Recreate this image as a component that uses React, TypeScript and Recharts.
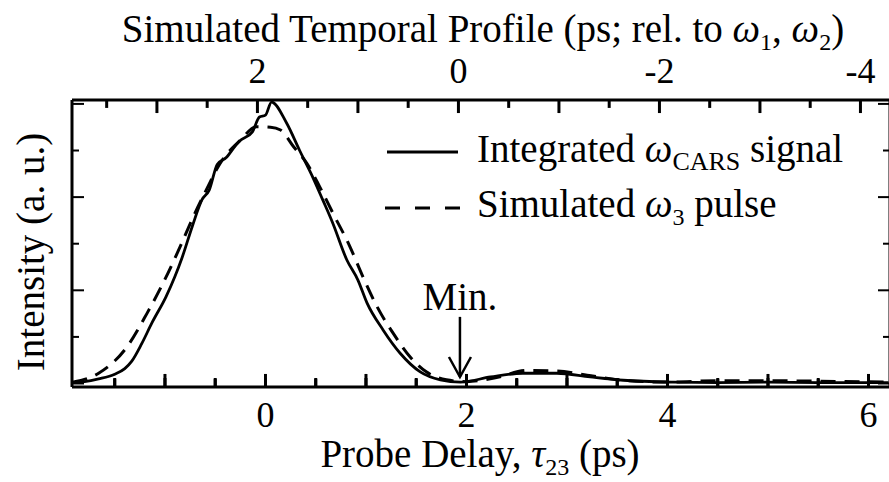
import React from 'react';
import { LineChart, Line, XAxis, YAxis, ReferenceLine } from 'recharts';

// Integrated CARS signal (solid)
const carsDelay = [
  -1.92, -1.8, -1.66, -1.5, -1.4, -1.33, -1.23, -1.13, -0.99, -0.9, -0.83, -0.73, -0.63, -0.56,
  -0.48, -0.39, -0.3, -0.26, -0.13, -0.06, 0.0, 0.06, 0.21, 0.34, 0.47, 0.57, 0.67, 0.81, 0.92,
  1.01, 1.17, 1.34, 1.54, 1.74, 1.94, 2.24, 2.56, 2.9, 3.23, 3.56, 4.05, 4.5, 5.0, 5.5, 6.2,
];
const carsSignal = [
  0.02, 0.04, 0.1, 0.2, 0.32, 0.48, 0.86, 1.3, 1.86, 2.3, 2.7, 3.36, 3.95, 4.15,
  4.7, 4.85, 5.1, 5.2, 5.4, 5.72, 5.76, 6.04, 5.59, 5.0, 4.43, 3.94, 3.44, 2.65, 2.22,
  1.73, 1.15, 0.65, 0.25, 0.08, 0.03, 0.14, 0.22, 0.22, 0.14, 0.07, 0.03, 0.02, 0.03, 0.02, 0.02,
];

// Simulated omega3 pulse (dashed)
const pulseDelay = [
  -1.92, -1.66, -1.38, -1.18, -1.02, -0.85, -0.72, -0.59, -0.45, -0.25, -0.09, 0.05, 0.15, 0.28,
  0.41, 0.54, 0.67, 0.84, 0.97, 1.11, 1.27, 1.44, 1.6, 1.8, 2.0, 2.3, 2.6, 2.9, 3.2, 3.5, 4.0,
  4.5, 5.0, 5.5, 6.2,
];
const pulseSignal = [
  0.03, 0.22, 0.78, 1.5, 2.15, 2.93, 3.57, 4.15, 4.73, 5.22, 5.51, 5.5, 5.44, 5.08,
  4.73, 4.22, 3.66, 2.94, 2.29, 1.65, 1.08, 0.57, 0.25, 0.08, 0.04, 0.13, 0.28, 0.27, 0.18, 0.08, 0.03,
  0.06, 0.06, 0.05, 0.03,
];

const bottomTicks = [-1.5, -1, -0.5, 0, 0.5, 1, 1.5, 2, 2.5, 3, 3.5, 4, 4.5, 5, 5.5, 6];
const bottomLabels = [0, 2, 4, 6];
const topTicks = [3.5, 3, 2.5, 2, 1.5, 1, 0.5, 0, -0.5, -1, -1.5, -2, -2.5, -3, -3.5, -4];
const topLabels = [2, 0, -2, -4];
const yTicks = [0, 1, 2, 3, 4, 5, 6];
// the top scale's zero sits at this probe delay, and it runs the other way
const TOP_ZERO_DELAY = 1.92;
const topTicksAsDelay = topTicks.map((t) => TOP_ZERO_DELAY - t);

const X_DOMAIN = [-1.925, 6.214];
const Y_DOMAIN = [-0.075, 6.084];
// tick lengths in intensity units (about 13 px and 8 px)
const MAJOR_LEN = 0.28;
const MINOR_LEN = 0.17;

const carsData = carsDelay.map((d, i) => ({ delay: d, signal: carsSignal[i] }));
const pulseData = pulseDelay.map((d, i) => ({ delay: d, signal: pulseSignal[i] }));

const FONT = '"Liberation Serif", "Times New Roman", serif';
const FS = 39;
const TICK_FS = 36;

const SegLine = (props: any) => {
  const { x1, y1, x2, y2 } = props;
  return (
    <g>
      <line x1={x1} y1={y1} x2={x2} y2={y2} stroke="#000" strokeWidth={3} />
    </g>
  );
};

// full-height reference line, used only to place an axis number above or below the frame
const FrameLabel = (props: any) => {
  const { x1, y1, y2, value, side } = props;
  const top = Math.min(Number(y1), Number(y2));
  const bot = Math.max(Number(y1), Number(y2));
  return (
    <text
      x={x1}
      y={side === 'top' ? top - 17 : bot + 40}
      textAnchor="middle"
      fontFamily={FONT}
      fontSize={TICK_FS}
      fill="#000"
    >
      {value}
    </text>
  );
};

const NoLabel = () => <g />;

const LeftTick = (props: any) => {
  const { x, y, payload } = props;
  const len = payload.value % 2 === 0 ? 12 : 7;
  return <line x1={x} x2={x + len} y1={y} y2={y} stroke="#000" strokeWidth={2} />;
};

const RightTick = (props: any) => {
  const { x, y, payload } = props;
  const len = payload.value % 2 === 0 ? 12 : 7;
  return <line x1={x} x2={x - len} y1={y} y2={y} stroke="#000" strokeWidth={2} />;
};

const MinArrow = (props: any) => {
  const { x1, y1, x2, y2 } = props;
  return (
    <g>
      <line x1={x1} y1={y1} x2={x2} y2={y2} stroke="#000" strokeWidth={2.5} />
      <polyline
        points={`${x2 - 11},${y2 - 20} ${x2},${y2} ${x2 + 11},${y2 - 20}`}
        fill="none"
        stroke="#000"
        strokeWidth={2.5}
      />
      <text x={x1} y={y1 - 7} textAnchor="middle" fontFamily={FONT} fontSize={FS} fill="#000">
        Min.
      </text>
    </g>
  );
};

export default function App() {
  return (
    <div style={{ position: 'absolute', left: 0, top: 0, width: 889, height: 482, overflow: 'hidden', background: '#fff' }}>
      <LineChart width={892} height={482} margin={{ top: 50, right: 1, left: 71, bottom: 35 }}>
        <XAxis
          xAxisId="bottom"
          dataKey="delay"
          type="number"
          domain={X_DOMAIN}
          allowDataOverflow
          ticks={bottomTicks}
          interval={0}
          height={60}
          tickSize={-9}
          tickMargin={0}
          tickLine={{ stroke: '#000', strokeWidth: 3 }}
          tick={<NoLabel />}
          axisLine={{ stroke: '#000', strokeWidth: 3 }}
        />
        <XAxis
          xAxisId="top"
          orientation="top"
          type="number"
          domain={X_DOMAIN}
          allowDataOverflow
          ticks={topTicksAsDelay}
          interval={0}
          height={50}
          tickSize={-9}
          tickMargin={0}
          tickLine={{ stroke: '#000', strokeWidth: 3 }}
          tick={<NoLabel />}
          axisLine={{ stroke: '#000', strokeWidth: 3 }}
        />
        <YAxis
          yAxisId="left"
          type="number"
          domain={Y_DOMAIN}
          allowDataOverflow
          ticks={yTicks}
          interval={0}
          width={1}
          tickSize={0}
          tickMargin={0}
          tick={<LeftTick />}
          axisLine={{ stroke: '#000', strokeWidth: 3 }}
        />
        <YAxis
          yAxisId="right"
          orientation="right"
          type="number"
          domain={Y_DOMAIN}
          allowDataOverflow
          ticks={yTicks}
          interval={0}
          width={1}
          tickSize={0}
          tickMargin={0}
          tick={<RightTick />}
          axisLine={{ stroke: '#000', strokeWidth: 3 }}
        />
        {bottomTicks.map((v) => (
          <ReferenceLine
            key={`b${v}`}
            xAxisId="bottom"
            yAxisId="left"
            ifOverflow="visible"
            segment={[
              { x: v, y: Y_DOMAIN[0] },
              { x: v, y: Y_DOMAIN[0] + (Number.isInteger(v) ? MAJOR_LEN : MINOR_LEN) },
            ]}
            shape={<SegLine />}
          />
        ))}
        {topTicks.map((t) => (
          <ReferenceLine
            key={`ts${t}`}
            xAxisId="bottom"
            yAxisId="left"
            ifOverflow="visible"
            segment={[
              { x: TOP_ZERO_DELAY - t, y: Y_DOMAIN[1] },
              { x: TOP_ZERO_DELAY - t, y: Y_DOMAIN[1] - (Number.isInteger(t) ? MAJOR_LEN : MINOR_LEN) },
            ]}
            shape={<SegLine />}
          />
        ))}
        {topLabels.map((t) => (
          <ReferenceLine
            key={`tl${t}`}
            xAxisId="bottom"
            yAxisId="left"
            x={TOP_ZERO_DELAY - t}
            shape={<FrameLabel value={t} side="top" />}
          />
        ))}
        {bottomLabels.map((v) => (
          <ReferenceLine
            key={`bl${v}`}
            xAxisId="bottom"
            yAxisId="left"
            x={v}
            shape={<FrameLabel value={v} side="bottom" />}
          />
        ))}
        <Line
          xAxisId="bottom"
          yAxisId="left"
          data={pulseData}
          dataKey="signal"
          type="monotone"
          stroke="#000"
          strokeWidth={3}
          strokeDasharray="15 9"
          dot={false}
          isAnimationActive={false}
        />
        <Line
          xAxisId="bottom"
          yAxisId="left"
          data={carsData}
          dataKey="signal"
          type="monotone"
          stroke="#000"
          strokeWidth={2.8}
          dot={false}
          isAnimationActive={false}
        />
        <ReferenceLine
          xAxisId="bottom"
          yAxisId="left"
          segment={[{ x: 1.935, y: 1.43 }, { x: 1.935, y: 0.14 }]}
          shape={<MinArrow />}
        />
      </LineChart>
      <svg width={889} height={482} style={{ position: 'absolute', left: 0, top: 0, pointerEvents: 'none' }}>
        <g fontFamily={FONT} fontSize={FS} fill="#000">
          <text x={483} y={42} textAnchor="middle">
            Simulated Temporal Profile (ps; rel. to <tspan fontStyle="italic">ω</tspan>
            <tspan fontSize={24} dy={8}>1</tspan>
            <tspan dy={-8}>, </tspan>
            <tspan fontStyle="italic">ω</tspan>
            <tspan fontSize={24} dy={8}>2</tspan>
            <tspan dy={-8}>)</tspan>
          </text>
          <text x={480} y={467} textAnchor="middle">
            Probe Delay, <tspan fontStyle="italic">τ</tspan>
            <tspan fontSize={24} dy={8}>23</tspan>
            <tspan dy={-8}> (ps)</tspan>
          </text>
          <text x={44} y={252} textAnchor="middle" transform="rotate(-90 44 252)">
            Intensity (a. u.)
          </text>
          <line x1={387} x2={458} y1={152} y2={152} stroke="#000" strokeWidth={3} />
          <text x={477} y={162}>
            Integrated <tspan fontStyle="italic">ω</tspan>
            <tspan fontSize={26} dy={8}>CARS</tspan>
            <tspan dy={-8}> signal</tspan>
          </text>
          <line x1={385} x2={460} y1={208} y2={208} stroke="#000" strokeWidth={3} strokeDasharray="15 15" />
          <text x={477} y={217}>
            Simulated <tspan fontStyle="italic">ω</tspan>
            <tspan fontSize={24} dy={8}>3</tspan>
            <tspan dy={-8}> pulse</tspan>
          </text>
        </g>
      </svg>
    </div>
  );
}
